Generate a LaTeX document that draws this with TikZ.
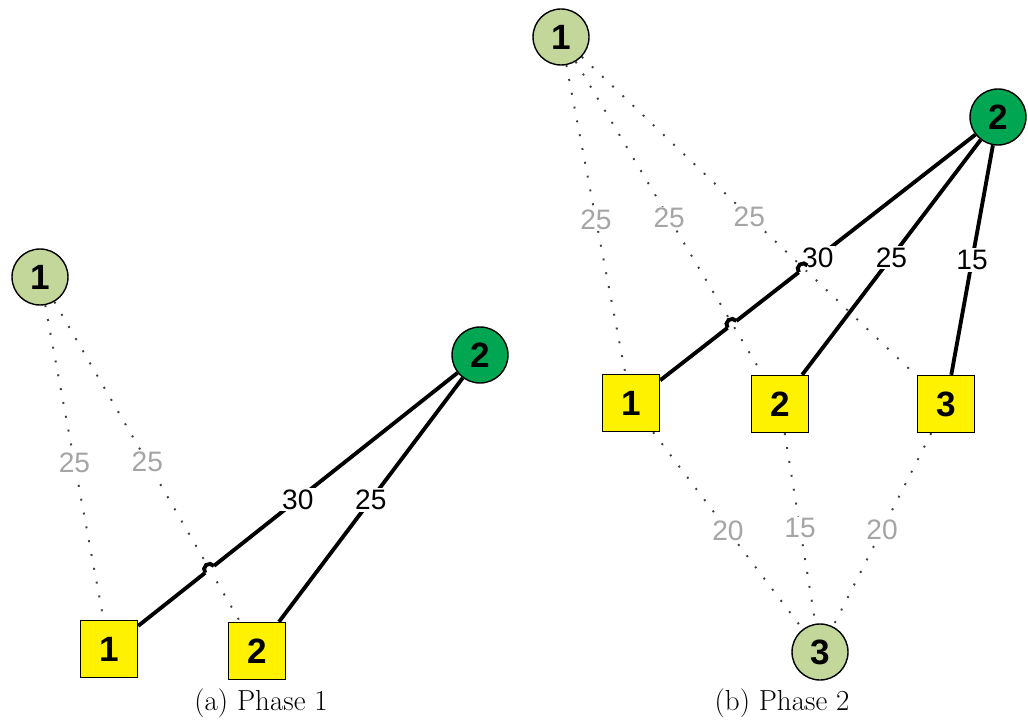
\documentclass[tikz,border=0pt]{standalone}
\usepackage{fontspec}
\newfontfamily\numfont{Liberation Sans}
\usetikzlibrary{calc}

\definecolor{paleGreen}{RGB}{196,215,155}
\definecolor{deepGreen}{RGB}{0,166,81}
\definecolor{labelGray}{RGB}{165,165,165}

\tikzset{
	hub/.style={circle, draw, line width=0.8pt, minimum size=11.2mm, inner sep=0pt,
		font=\numfont\fontsize{20}{24}\selectfont\bfseries},
	stop/.style={rectangle, draw, fill=yellow, line width=0.8pt, minimum size=11.4mm, inner sep=0pt,
		font=\numfont\fontsize{20}{24}\selectfont\bfseries},
	heavy/.style={line width=2.2pt},
	faint/.style={black!75, line width=1.1pt, dash pattern=on 1.1pt off 6.9pt},
	weight/.style={fill=white, inner sep=1pt, font=\numfont\fontsize{16}{18}\selectfont},
	greyweight/.style={weight, text=labelGray},
	caption/.style={font=\fontsize{16.5}{20}\selectfont}
}

% little bridge where a heavy line jumps over a dotted one
\def\hop(#1)(#2:#3){%
	\draw[white, line width=3pt] ($(#1)+(#2+180:#3)$) -- ($(#1)+(#2:#3)$);
	\draw[heavy] ($(#1)+(#2+180:#3)$) arc[start angle=#2+180, end angle=#2, radius=#3];}

\begin{document}
\begin{tikzpicture}[x=0.2mm, y=0.2mm]
	%%%%% START %%%%%
	\useasboundingbox (0,0) rectangle (1028,721);
	
	% phase 1
	\node[hub, fill=paleGreen] (c1L) at (40,444) {1};
	\node[hub, fill=deepGreen] (c2L) at (480,366) {2};
	\node[stop] (s1L) at (109,72) {1};
	\node[stop] (s2L) at (257,70) {2};
	
	\draw[faint] (c1L) -- node[greyweight] {25} (s1L);
	\draw[faint] (c1L) -- node[greyweight] {25} (s2L);
	\draw[heavy] (c2L) -- node[weight] {30} (s1L);
	\draw[heavy] (c2L) -- node[weight] {25} (s2L);
	
	\coordinate (h1) at ($(c2L)!0.729!(s1L)$);
	\hop(h1)(38:1.1mm)
	
	\node[caption] (capA) at (261,18) {(a) Phase 1};
	
	% phase 2
	\node[hub, fill=paleGreen] (c1R) at (561,684) {1};
	\node[hub, fill=deepGreen] (c2R) at (998,604) {2};
	\node[hub, fill=paleGreen] (c3R) at (820,69) {3};
	\node[stop] (s1R) at (631,318) {1};
	\node[stop] (s2R) at (780,317) {2};
	\node[stop] (s3R) at (946,317) {3};
	
	\draw[faint] (c1R) -- node[greyweight] {25} (s1R);
	\draw[faint] (c1R) -- node[greyweight] {25} (s2R);
	\draw[faint] (c1R) -- node[greyweight] {25} (s3R);
	\draw[faint] (s1R) -- node[greyweight] {20} (c3R);
	\draw[faint] (s2R) -- node[greyweight] {15} (c3R);
	\draw[faint] (s3R) -- node[greyweight] {20} (c3R);
	\draw[heavy] (c2R) -- node[weight] {30} (s1R);
	\draw[heavy] (c2R) -- node[weight] {25} (s2R);
	\draw[heavy] (c2R) -- node[weight] {15} (s3R);
	
	\coordinate (h2) at ($(c2R)!0.725!(s1R)$);
	\coordinate (h3) at ($(c2R)!0.531!(s1R)$);
	\hop(h2)(38:1.1mm)
	\hop(h3)(38:1.1mm)
	
	\node[caption] (capB) at (782,18) {(b) Phase 2};
	%%%%% END %%%%%
\end{tikzpicture}
\end{document}
